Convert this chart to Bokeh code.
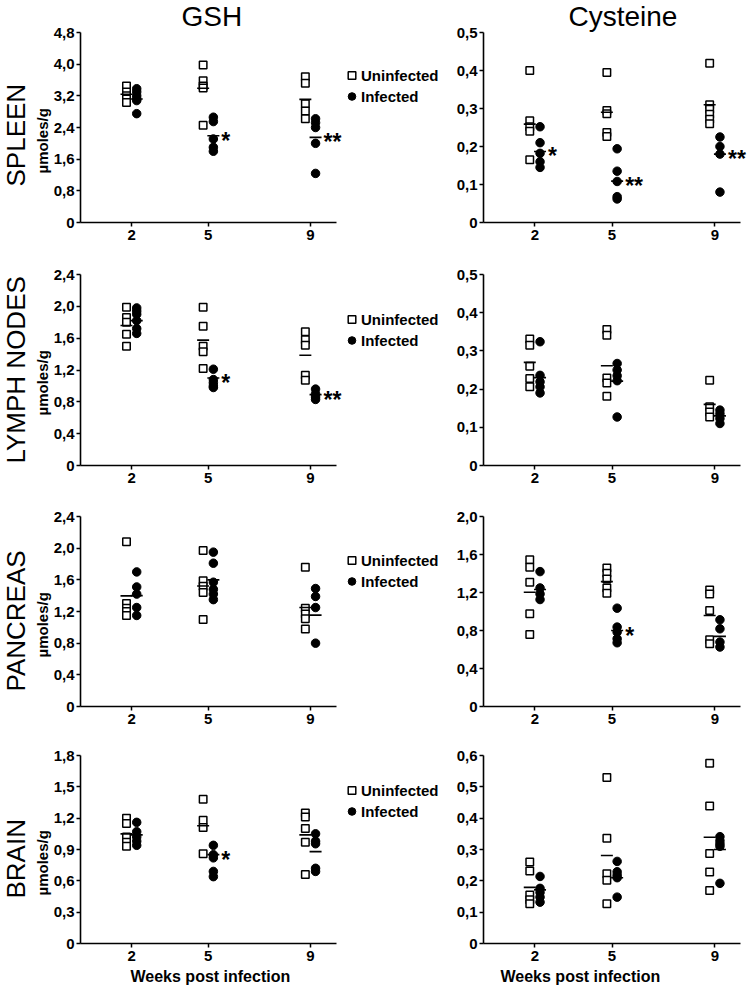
from bokeh.plotting import figure
from bokeh.layouts import column, row
from bokeh.models import (Range1d, FixedTicker, CustomJSTickFormatter, Legend,
                          LegendItem, Title)
from bokeh.embed import file_html
from bokeh.resources import INLINE
from bokeh.core.properties import value

FONT = "Liberation Sans"

weeks = [2, 5, 9]
tissues = ["SPLEEN", "LYMPH NODES", "PANCREAS", "BRAIN"]
metabolites = ["GSH", "Cysteine"]
x_label = "Weeks post infection"
y_label = "µmoles/g"
legend_labels = ["Uninfected", "Infected"]

# ---------------- data (µmoles/g), one list per week ----------------
spleen_gsh_uninf = [[3.45, 3.30, 3.20, 3.12, 3.03], [3.98, 3.58, 3.45, 3.40, 2.46], [3.68, 3.52, 3.00, 2.82, 2.62]]
spleen_gsh_inf = [[3.38, 3.30, 3.20, 3.12, 3.08, 2.75], [2.66, 2.55, 2.11, 1.90, 1.80], [2.62, 2.52, 2.40, 2.00, 1.24]]
spleen_gsh_uninf_mean = [3.24, 3.39, 3.11]
spleen_gsh_inf_mean = [3.12, 2.19, 2.15]
spleen_gsh_sig = ["", "*", "**"]
spleen_gsh_ticks = [0, 0.8, 1.6, 2.4, 3.2, 4.0, 4.8]

spleen_cys_uninf = [[0.40, 0.268, 0.252, 0.24, 0.165], [0.395, 0.295, 0.286, 0.237, 0.226], [0.419, 0.31, 0.298, 0.285, 0.272, 0.26]]
spleen_cys_inf = [[0.252, 0.21, 0.182, 0.16, 0.145], [0.194, 0.135, 0.108, 0.068, 0.062], [0.225, 0.20, 0.18, 0.08]]
spleen_cys_uninf_mean = [0.259, 0.29, 0.31]
spleen_cys_inf_mean = [0.187, 0.109, 0.18]
spleen_cys_sig = ["*", "**", "**"]
spleen_cys_ticks = [0, 0.1, 0.2, 0.3, 0.4, 0.5]

ln_gsh_uninf = [[1.99, 1.86, 1.80, 1.65, 1.50], [1.99, 1.75, 1.50, 1.43, 1.22], [1.68, 1.58, 1.51, 1.135, 1.07]]
ln_gsh_inf = [[1.98, 1.94, 1.90, 1.82, 1.72, 1.66], [1.21, 1.08, 1.04, 1.00, 0.98], [0.96, 0.90, 0.86, 0.83]]
ln_gsh_uninf_mean = [1.76, 1.575, 1.386]
ln_gsh_inf_mean = [1.82, 1.10, 0.89]
ln_gsh_sig = ["", "*", "**"]
ln_gsh_ticks = [0, 0.4, 0.8, 1.2, 1.6, 2.0, 2.4]

ln_cys_uninf = [[0.331, 0.315, 0.26, 0.228, 0.206], [0.356, 0.341, 0.229, 0.216, 0.181], [0.223, 0.154, 0.14, 0.127]]
ln_cys_inf = [[0.324, 0.236, 0.219, 0.206, 0.19], [0.267, 0.25, 0.235, 0.222, 0.127], [0.145, 0.136, 0.123, 0.11]]
ln_cys_uninf_mean = [0.27, 0.261, 0.16]
ln_cys_inf_mean = [0.23, 0.221, 0.13]
ln_cys_sig = ["", "", ""]
ln_cys_ticks = [0, 0.1, 0.2, 0.3, 0.4, 0.5]

panc_gsh_uninf = [[2.08, 1.30, 1.24, 1.20, 1.15], [1.97, 1.59, 1.52, 1.44, 1.10], [1.76, 1.24, 1.17, 1.11, 0.98]]
panc_gsh_inf = [[1.70, 1.51, 1.42, 1.25, 1.15], [1.95, 1.81, 1.57, 1.48, 1.42, 1.35], [1.49, 1.39, 1.25, 0.80]]
panc_gsh_uninf_mean = [1.397, 1.523, 1.25]
panc_gsh_inf_mean = [1.40, 1.60, 1.154]
panc_gsh_sig = ["", "", ""]
panc_gsh_ticks = [0, 0.4, 0.8, 1.2, 1.6, 2.0, 2.4]

panc_cys_uninf = [[1.545, 1.465, 1.308, 0.976, 0.759], [1.458, 1.402, 1.343, 1.248, 1.192], [1.227, 1.185, 1.01, 0.703, 0.661]]
panc_cys_inf = [[1.42, 1.248, 1.185, 1.126], [1.035, 0.836, 0.783, 0.713, 0.671], [0.913, 0.818, 0.678, 0.626]]
panc_cys_uninf_mean = [1.203, 1.315, 0.958]
panc_cys_inf_mean = [1.231, 0.80, 0.738]
panc_cys_sig = ["", "*", ""]
panc_cys_ticks = [0, 0.4, 0.8, 1.2, 1.6, 2.0]

brain_gsh_uninf = [[1.20, 1.15, 1.02, 0.97, 0.93], [1.38, 1.18, 1.11, 0.86], [1.25, 1.21, 1.10, 0.97, 0.66]]
brain_gsh_inf = [[1.16, 1.07, 1.02, 0.98, 0.94], [0.94, 0.85, 0.82, 0.69, 0.64], [1.05, 0.98, 0.955, 0.72, 0.69]]
brain_gsh_uninf_mean = [1.05, 1.128, 1.04]
brain_gsh_inf_mean = [1.04, 0.851, 0.88]
brain_gsh_sig = ["", "*", ""]
brain_gsh_ticks = [0, 0.3, 0.6, 0.9, 1.2, 1.5, 1.8]

brain_cys_uninf = [[0.26, 0.231, 0.155, 0.14, 0.127], [0.53, 0.336, 0.223, 0.202, 0.127], [0.575, 0.439, 0.287, 0.228, 0.169]]
brain_cys_inf = [[0.214, 0.176, 0.163, 0.148, 0.132], [0.262, 0.229, 0.218, 0.21, 0.148], [0.341, 0.328, 0.318, 0.31, 0.192]]
brain_cys_uninf_mean = [0.179, 0.281, 0.339]
brain_cys_inf_mean = [0.171, 0.21, 0.30]
brain_cys_sig = ["", "", ""]
brain_cys_ticks = [0, 0.1, 0.2, 0.3, 0.4, 0.5, 0.6]

panels = [
    [(spleen_gsh_uninf, spleen_gsh_inf, spleen_gsh_uninf_mean, spleen_gsh_inf_mean, spleen_gsh_sig, spleen_gsh_ticks),
     (spleen_cys_uninf, spleen_cys_inf, spleen_cys_uninf_mean, spleen_cys_inf_mean, spleen_cys_sig, spleen_cys_ticks)],
    [(ln_gsh_uninf, ln_gsh_inf, ln_gsh_uninf_mean, ln_gsh_inf_mean, ln_gsh_sig, ln_gsh_ticks),
     (ln_cys_uninf, ln_cys_inf, ln_cys_uninf_mean, ln_cys_inf_mean, ln_cys_sig, ln_cys_ticks)],
    [(panc_gsh_uninf, panc_gsh_inf, panc_gsh_uninf_mean, panc_gsh_inf_mean, panc_gsh_sig, panc_gsh_ticks),
     (panc_cys_uninf, panc_cys_inf, panc_cys_uninf_mean, panc_cys_inf_mean, panc_cys_sig, panc_cys_ticks)],
    [(brain_gsh_uninf, brain_gsh_inf, brain_gsh_uninf_mean, brain_gsh_inf_mean, brain_gsh_sig, brain_gsh_ticks),
     (brain_cys_uninf, brain_cys_inf, brain_cys_uninf_mean, brain_cys_inf_mean, brain_cys_sig, brain_cys_ticks)],
]

# ---------------- layout constants (pixels) ----------------
ROW_TOP = [32, 25, 25, 24]
ROW_FRAME = [190, 191, 190, 190]
ROW_BOTTOM = [27, 26, 25, 46]
LEGEND_TOP = [33, 35, 34, 27]
ROWLABEL_OFF = [36, 2, 15, 45]
YLABEL_OFF = [49, 50, 49, 48]
TITLE_OFF = [101, 85]
XLABEL_OFF = [50, 17]
COL_W = [445, 305]
COL_LEFT = [75, 38]
COL_PPU = [25.9, 25.7]
GROUP_OFF = 0.2


def comma_fmt():
    return CustomJSTickFormatter(
        code="return tick === 0 ? '0' : tick.toFixed(1).replace('.', ',');")


def make_panel(ri, ci, uninf, inf, mu_u, mu_i, sig, yticks):
    left = ci == 0
    W = COL_W[ci]
    mbl = COL_LEFT[ci]
    H = ROW_TOP[ri] + ROW_FRAME[ri] + ROW_BOTTOM[ri]
    fw = W - mbl
    p = figure(width=W, height=H, x_range=Range1d(0, fw / COL_PPU[ci]),
               y_range=Range1d(0, yticks[-1]),
               output_backend="svg", toolbar_location=None,
               min_border_left=mbl, min_border_right=0,
               min_border_top=ROW_TOP[ri], min_border_bottom=ROW_BOTTOM[ri])
    p.outline_line_color = None
    p.xgrid.visible = False
    p.ygrid.visible = False
    p.background_fill_color = "white"
    p.border_fill_color = "white"

    xs_u = [w - GROUP_OFF for w, vals in zip(weeks, uninf) for _ in vals]
    ys_u = [v for vals in uninf for v in vals]
    xs_i = [w + GROUP_OFF for w, vals in zip(weeks, inf) for _ in vals]
    ys_i = [v for vals in inf for v in vals]

    r_u = p.scatter(xs_u, ys_u, marker="square", size=7.5, fill_color="white",
                    line_color="black", line_width=1.5)
    r_i = p.scatter(xs_i, ys_i, marker="circle", size=8.5, fill_color="black",
                    line_color="black", line_width=1)
    p.scatter([w - GROUP_OFF for w in weeks], mu_u, marker="dash", size=12,
              line_color="black", line_width=1.6)
    p.scatter([w + GROUP_OFF for w in weeks], mu_i, marker="dash", size=12,
              line_color="black", line_width=1.6)

    sx = [w + GROUP_OFF for w, s in zip(weeks, sig) if s]
    sy = [m for m, s in zip(mu_i, sig) if s]
    st = [s for s in sig if s]
    if st:
        p.text(sx, sy, text=st, x_offset=8, y_offset=5, text_align="left",
               text_baseline="middle", text_font=value(FONT),
               text_font_style="bold", text_font_size="23px", text_color="black")

    for ax in (p.xaxis[0], p.yaxis[0]):
        ax.axis_line_color = "black"
        ax.axis_line_width = 1.6
        ax.major_tick_line_color = "black"
        ax.major_tick_line_width = 1.5
        ax.major_tick_out = 4
        ax.major_tick_in = 0
        ax.minor_tick_line_color = None
        ax.major_label_text_font = FONT
        ax.major_label_text_font_style = "bold"
        ax.major_label_text_font_size = "15px"
        ax.major_label_text_color = "black"
        ax.major_label_standoff = 2
    p.xaxis.ticker = FixedTicker(ticks=weeks)
    p.xaxis.bounds = (0, 10)
    p.xaxis.major_label_standoff = 3
    p.yaxis.ticker = FixedTicker(ticks=yticks)
    p.yaxis.formatter = comma_fmt()

    if ri == 0:
        p.title.text = metabolites[ci]
        p.title.align = "left"
        p.title.offset = TITLE_OFF[ci]
        p.title.vertical_align = "top"
        p.title.standoff = -2
        p.title.text_font = FONT
        p.title.text_font_style = "normal"
        p.title.text_font_size = "28px"
        p.title.text_color = "black"

    if ri == 3:
        p.add_layout(Title(text=x_label, align="left", offset=XLABEL_OFF[ci],
                           vertical_align="top", standoff=9, text_font=FONT,
                           text_font_style="bold", text_font_size="16px",
                           text_color="black"), "below")

    if left:
        p.add_layout(Title(text=y_label, align="left", offset=YLABEL_OFF[ri],
                           vertical_align="middle", standoff=-2, text_font=FONT,
                           text_font_style="bold", text_font_size="15px",
                           text_color="black"), "left")

        legend = Legend(items=[LegendItem(label=legend_labels[0], renderers=[r_u]),
                               LegendItem(label=legend_labels[1], renderers=[r_i])],
                        location=(262, ROW_FRAME[ri] - LEGEND_TOP[ri] - 41),
                        orientation="vertical", glyph_width=19, glyph_height=20,
                        label_height=20, spacing=1, label_standoff=0,
                        padding=0, margin=0, border_line_color=None,
                        background_fill_alpha=0,
                        label_text_font=FONT, label_text_font_style="bold",
                        label_text_font_size="15px", label_text_color="black")
        p.add_layout(legend)

        p.add_layout(Title(text=tissues[ri], align="left", offset=ROWLABEL_OFF[ri],
                           vertical_align="top", standoff=1, text_font=FONT,
                           text_font_style="normal", text_font_size="26px",
                           text_color="black"), "left")
    return p


rows = []
for ri in range(4):
    figs = [make_panel(ri, ci, *panels[ri][ci]) for ci in range(2)]
    rows.append(row(*figs))

layout = column(*rows)
open("out.html", "w").write(file_html(layout, INLINE))
